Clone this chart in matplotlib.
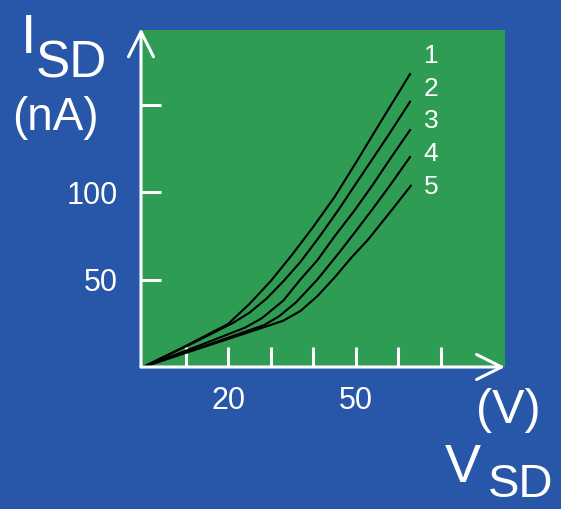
import matplotlib
matplotlib.use('Agg')
import matplotlib.pyplot as plt

plt.rcParams['font.family'] = ['Liberation Sans', 'DejaVu Sans']

# V_SD (V) und I_SD (nA) fuer die fuenf Kurven
v1 = [0, 10, 20, 25, 30, 35, 40, 45, 50, 55, 60, 62.8]
i1 = [0, 12, 24.6, 36, 49, 64, 80, 97, 116.5, 136.5, 156.3, 167.4]
v2 = [0, 12, 21, 25, 29, 33, 37, 41.5, 46.1, 50, 54, 58, 62.8]
i2 = [0, 14, 25, 31, 39, 49, 60, 74.5, 90.3, 104.5, 119, 133.5, 151.6]
v3 = [0, 14, 24, 28, 33, 37, 41, 45, 49.6, 54, 58, 62.8]
i3 = [0, 13, 22.5, 28, 38, 50, 61, 74.5, 89, 104, 118.5, 135.4]
v4 = [0, 15, 28.5, 32, 36, 41, 46, 50, 54, 58, 62.8]
i4 = [0, 12.5, 24, 29, 37, 50, 65, 77.5, 90.3, 103.5, 120]
v5 = [0, 15, 30, 33, 37, 41, 45, 49, 53, 58.7, 63]
i5 = [0, 12, 24, 26.5, 32, 40.5, 51, 62.5, 73, 90.3, 103.6]

kurven = [(v1, i1), (v2, i2), (v3, i3), (v4, i4), (v5, i5)]
namen = ['1', '2', '3', '4', '5']
label_pos = [(67.7, 177.9), (67.7, 158.9), (67.7, 140.7), (67.7, 121.7), (67.7, 102.9)]

xticks = [10, 20, 30, 40, 50, 60, 70]
xlabels = ['', '20', '', '', '50', '', '']
yticks = [50, 100, 150]
ylabels = ['50', '100', '']

blau = '#2856a8'
gruen = '#2f9c53'
W, H = 561, 509

fig = plt.figure(figsize=(5.61, 5.09), dpi=100, facecolor=blau)
ax = fig.add_axes([141 / W, 1 - 367 / H, (505 - 141) / W, (367 - 30) / H])
ax.set_facecolor(gruen)

for (v, i) in kurven:
    ax.plot(v, i, color='black', lw=1.5, solid_joinstyle='round')
for n, (x, y) in zip(namen, label_pos):
    ax.text(x, y, n, color='white', fontsize=19, ha='center', va='center')

ax.set_xlim(-0.5, (505 - 141) / 4.25 - 0.5)
ax.set_ylim(0, (367 - 30) / 1.75)

for s in ax.spines.values():
    s.set_visible(False)

# Achsenpfeile
pfeil = dict(arrowstyle='->,head_length=1.8,head_width=0.9', color='white',
             lw=2.2, shrinkA=0, shrinkB=0)
ax.annotate('', xy=(0, 1.005), xytext=(0, 0), xycoords='axes fraction',
            arrowprops=pfeil, annotation_clip=False)
ax.annotate('', xy=(1.0, 0), xytext=(0, 0), xycoords='axes fraction',
            arrowprops=pfeil, annotation_clip=False)

ax.set_xticks(xticks, xlabels)
ax.set_yticks(yticks, ylabels)
ax.tick_params(direction='in', length=14.5, width=2.2, color='white',
               labelcolor='white', labelsize=22)
ax.tick_params(axis='x', pad=14)
ax.tick_params(axis='y', pad=17)

def ftext(x, y, s, size):
    fig.text(x / W, 1 - y / H, s, color='white', fontsize=size,
             ha='left', va='baseline')

ftext(21, 53, 'I', 40)
ftext(36, 77, 'SD', 37)
ftext(12, 130, '(nA)', 33)
ftext(476, 423, '(V)', 35)
ftext(445, 482, 'V', 39)
ftext(488, 497, 'SD', 34)

fig.savefig('out.png', dpi=100, facecolor=blau)
